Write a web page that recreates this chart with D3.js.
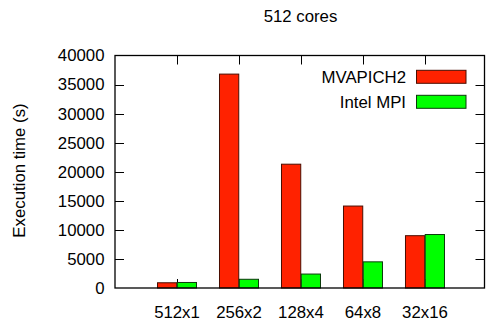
<!DOCTYPE html>
<html>
<head>
<meta charset="utf-8">
<script src="https://cdn.jsdelivr.net/npm/d3@7"></script>
<style>
  body { margin: 0; background: #fff; }
  text { font-family: "Liberation Sans", Arial, sans-serif; fill: #000; }
</style>
</head>
<body>
<div id="chart"></div>
<script>
// Execution time per layout, 512 cores
const categories = ["512x1", "256x2", "128x4", "64x8", "32x16"];
const seriesNames = ["MVAPICH2", "Intel MPI"];
const mvapich2 = [900, 36800, 21300, 14100, 9000];
const intelMpi = [950, 1500, 2400, 4500, 9200];
const yTicks = [0, 5000, 10000, 15000, 20000, 25000, 30000, 35000, 40000];

const seriesValues = [mvapich2, intelMpi];
const colors = ["#ff2200", "#00ff00"];
const strokes = ["#4a0d00", "#0b3a0b"];

const width = 487, height = 321;
const margin = {left: 115, right: 2.5, top: 55.5, bottom: 33};
const fontSize = 16.8;

const svg = d3.select("#chart").append("svg")
    .attr("width", width)
    .attr("height", height);

// x positions: one unit per category, gnuplot-style range from -1
const x = d3.scaleLinear()
    .domain([-1, 4.96])
    .range([margin.left, width - margin.right]);
const barW = 19.5;
const xSeries = d3.scaleBand()
    .domain(seriesNames)
    .range([-barW, barW])
    .paddingInner(0.025);

const y = d3.scaleLinear()
    .domain([0, 40000])
    .range([height - margin.bottom, margin.top]);

const x0 = x.range()[0], x1 = x.range()[1];
const yb = y(0), yt = y(40000);

// ticks (inward, mirrored)
const tl = 9;
const tg = svg.append("g").attr("stroke", "#000").attr("stroke-width", 1);
tg.selectAll(".yl").data(yTicks.slice(1, -1)).enter().append("line")
    .attr("x1", x0).attr("x2", x0 + tl)
    .attr("y1", d => Math.round(y(d)) + 0.5).attr("y2", d => Math.round(y(d)) + 0.5);
tg.selectAll(".yr").data(yTicks.slice(1, -1)).enter().append("line")
    .attr("x1", x1).attr("x2", x1 - tl)
    .attr("y1", d => Math.round(y(d)) + 0.5).attr("y2", d => Math.round(y(d)) + 0.5);
tg.selectAll(".xt").data(categories).enter().append("line")
    .attr("x1", (d, i) => Math.round(x(i)) + 0.5).attr("x2", (d, i) => Math.round(x(i)) + 0.5)
    .attr("y1", yt).attr("y2", yt + tl);
tg.selectAll(".xb").data(categories).enter().append("line")
    .attr("x1", (d, i) => Math.round(x(i)) + 0.5).attr("x2", (d, i) => Math.round(x(i)) + 0.5)
    .attr("y1", yb).attr("y2", yb - tl);

// bars
seriesNames.forEach((name, s) => {
    svg.append("g").selectAll("rect")
	.data(seriesValues[s])
	.enter().append("rect")
	.attr("x", (d, i) => x(i) + xSeries(name))
	.attr("width", xSeries.bandwidth())
	.attr("y", d => y(d))
	.attr("height", d => y(0) - y(d))
	.attr("fill", colors[s])
	.attr("stroke", strokes[s])
	.attr("stroke-width", 1);
});

// border
svg.append("rect")
    .attr("x", x0).attr("y", yt)
    .attr("width", x1 - x0).attr("height", yb - yt)
    .attr("fill", "none").attr("stroke", "#000").attr("stroke-width", 1.3);

// y tick labels
svg.append("g").selectAll("text")
    .data(yTicks)
    .enter().append("text")
    .attr("x", x0 - 10.5)
    .attr("y", d => y(d))
    .attr("dy", "0.35em")
    .attr("text-anchor", "end")
    .style("font-size", fontSize + "px")
    .text(d => d);

// x tick labels
svg.append("g").selectAll("text")
    .data(categories)
    .enter().append("text")
    .attr("x", (d, i) => x(i))
    .attr("y", 317.5)
    .attr("text-anchor", "middle")
    .style("font-size", fontSize + "px")
    .text(d => d);

// title
svg.append("text")
    .attr("x", 300.5).attr("y", 21.5)
    .attr("text-anchor", "middle")
    .style("font-size", fontSize + "px")
    .text("512 cores");

// y axis label
svg.append("text")
    .attr("transform", "translate(25," + 170.5 + ") rotate(-90)")
    .attr("text-anchor", "middle")
    .style("font-size", fontSize + "px")
    .text("Execution time (s)");

// legend
const legend = svg.append("g");
seriesNames.forEach((name, s) => {
    const ly = 76.8 + s * 25;
    legend.append("text")
	.attr("x", 406).attr("y", ly)
	.attr("dy", "0.35em")
	.attr("text-anchor", "end")
	.style("font-size", fontSize + "px")
	.text(name);
    legend.append("rect")
	.attr("x", 416.5).attr("y", ly - 6.5)
	.attr("width", 49.5).attr("height", 13)
	.attr("fill", colors[s])
	.attr("stroke", strokes[s])
	.attr("stroke-width", 1);
});
</script>
</body>
</html>
